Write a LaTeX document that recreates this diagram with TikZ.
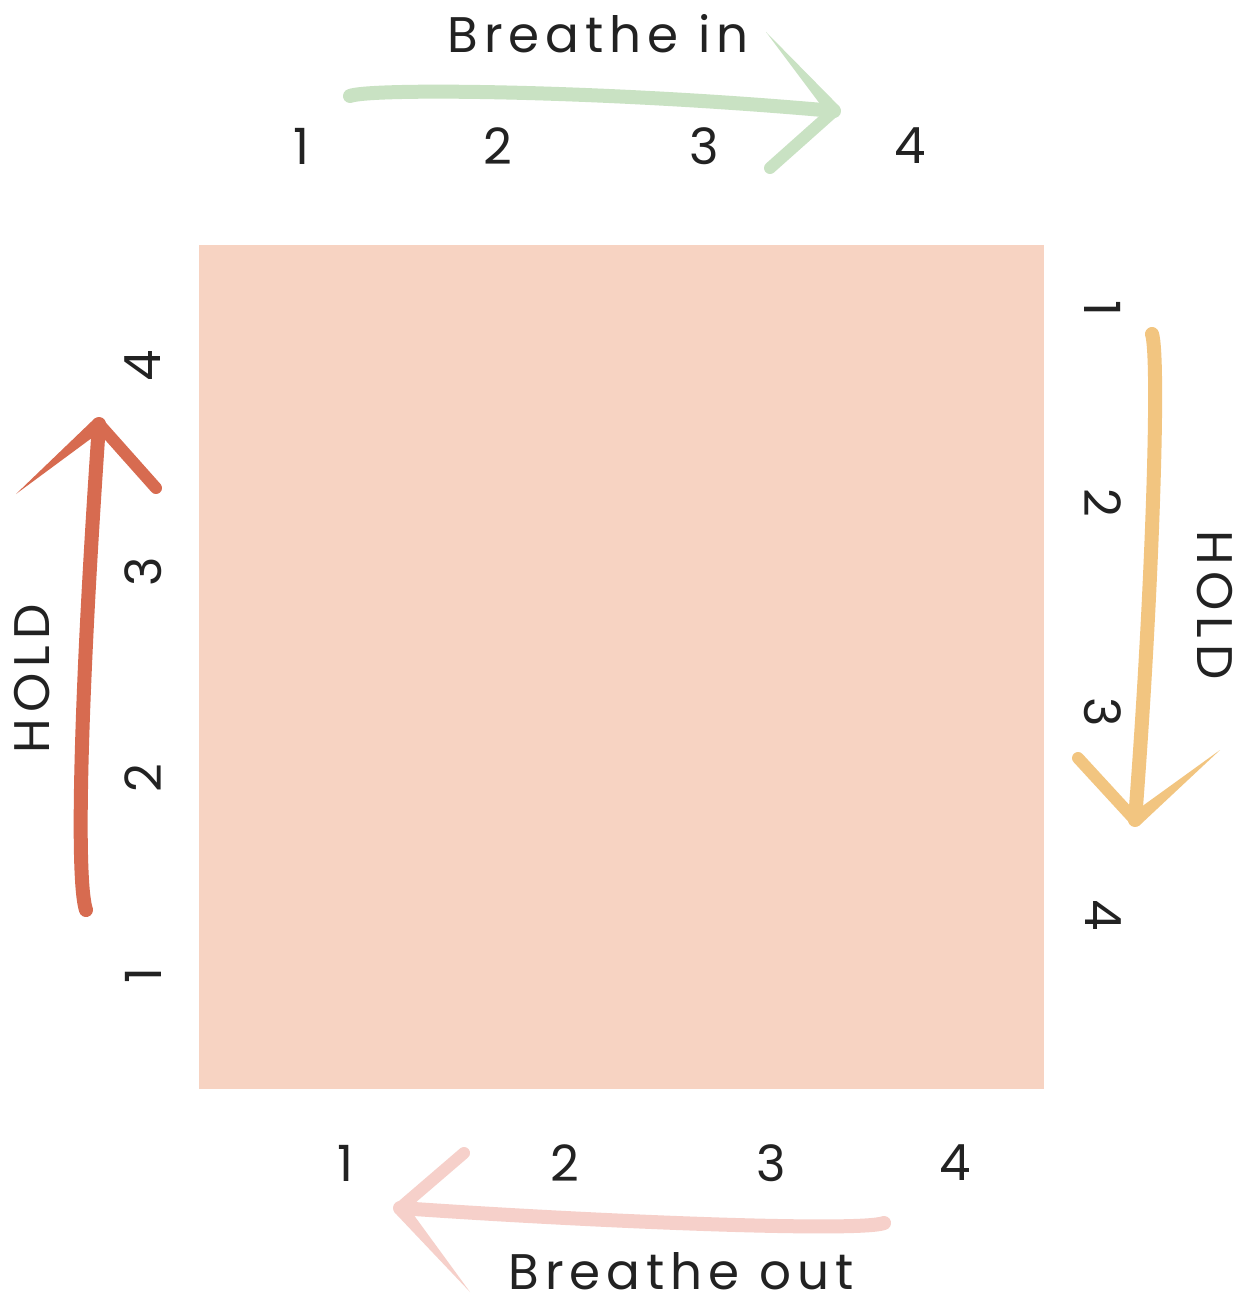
\documentclass[tikz,border=0pt]{standalone}
\usepackage{fontspec}
\setmainfont[LetterSpace=12]{Poppins}
\usetikzlibrary{calc}
\definecolor{sq}{HTML}{F7D3C2}
\definecolor{ink}{HTML}{222222}
\definecolor{cgreen}{HTML}{C9E2C3}
\definecolor{cpink}{HTML}{F6D0CA}
\definecolor{cred}{HTML}{D76B50}
\definecolor{cyel}{HTML}{F2C580}
\tikzset{
  lbl/.style={text=ink,font=\fontsize{50}{56}\selectfont,inner sep=0pt},
  num/.style={text=ink,font=\fontsize{50}{56}\selectfont,inner sep=0pt},
  shaft/.style={line width=14pt,line cap=round},
  barb/.style={line width=12pt,line cap=round},
}
\newcommand{\pointbarb}[3]{% color, tip, end
  \fill[#1] ($(#2)!7pt!90:(#3)$) -- (#3) -- ($(#2)!7pt!-90:(#3)$) -- cycle;}
\begin{document}
\begin{tikzpicture}[x=1pt,y=-1pt]
\useasboundingbox (0,0) rectangle (1242,1297);
\fill[white] (0,0) rectangle (1242,1297);
\node[fill=sq,minimum width=845pt,minimum height=844pt,inner sep=0pt] (box) at (621.5,667) {};

% top
\node[lbl,anchor=base] (tin) at (598,53) {Breathe in};
\node[num] (t1) at (301,146) {1};
\node[num] (t2) at (498,146) {2};
\node[num] (t3) at (704,146) {3};
\node[num] (t4) at (910,146) {4};
\coordinate (gA) at (350,96);
\coordinate (gT) at (834,111);
\coordinate (gU) at (766,32);
\coordinate (gL) at (770,168);
\draw[cgreen,shaft] (gA) .. controls (370,88) and (600,90) .. (gT);
\pointbarb{cgreen}{gT}{gU}
\draw[cgreen,barb] (gT) -- (gL);

% bottom
\node[lbl,anchor=base,text depth=0pt] (tout) at (681,1289) {Breathe out};
\node[num] (b1) at (345,1163) {1};
\node[num] (b2) at (565,1163) {2};
\node[num] (b3) at (771,1163) {3};
\node[num] (b4) at (955,1163) {4};
\coordinate (pA) at (884,1223);
\coordinate (pT) at (400,1208);
\coordinate (pU) at (464,1153);
\coordinate (pL) at (470,1292);
\draw[cpink,shaft] (pA) .. controls (860,1232) and (600,1222) .. (pT);
\draw[cpink,barb] (pT) -- (pU);
\pointbarb{cpink}{pT}{pL}

% left
\node[lbl,rotate=90] (lhold) at (32,679) {HOLD};
\node[num,rotate=90] (l1) at (143,975) {1};
\node[num,rotate=90] (l2) at (143,778) {2};
\node[num,rotate=90] (l3) at (143,572) {3};
\node[num,rotate=90] (l4) at (143,366) {4};
\coordinate (rA) at (86,910);
\coordinate (rT) at (99,424);
\coordinate (rL) at (16,494);
\coordinate (rR) at (156,488);
\draw[cred,shaft] (rA) .. controls (76,880) and (80,700) .. (rT);
\pointbarb{cred}{rT}{rL}
\draw[cred,barb] (rT) -- (rR);

% right
\node[lbl,rotate=-90] (rhold) at (1215,605) {HOLD};
\node[num,rotate=-90] (r1) at (1103,308) {1};
\node[num,rotate=-90] (r2) at (1103,503) {2};
\node[num,rotate=-90] (r3) at (1103,712) {3};
\node[num,rotate=-90] (r4) at (1103,915) {4};
\coordinate (yA) at (1152,334);
\coordinate (yT) at (1135,820);
\coordinate (yL) at (1078,758);
\coordinate (yR) at (1220,750);
\draw[cyel,shaft] (yA) .. controls (1160,360) and (1152,600) .. (yT);
\draw[cyel,barb] (yT) -- (yL);
\pointbarb{cyel}{yT}{yR}
\end{tikzpicture}
\end{document}
